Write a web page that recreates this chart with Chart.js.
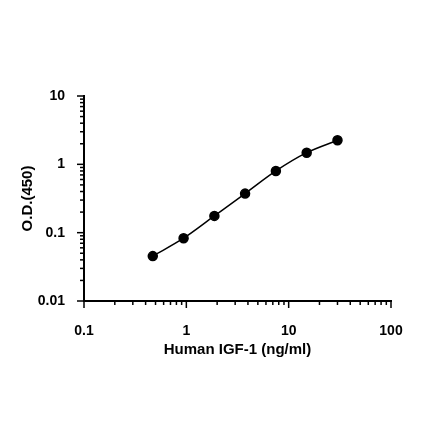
<!DOCTYPE html>
<html><head><script src="https://cdn.jsdelivr.net/npm/chart.js@4"></script>
<style>body{margin:0;background:#fff}</style></head>
<body><canvas id="c" width="440" height="441"></canvas>
<script>
const concentrations = [0.47, 0.94, 1.88, 3.75, 7.5, 15, 30];
const odValues = [0.0454, 0.083, 0.176, 0.373, 0.80, 1.48, 2.25];
const xTickLabels = [0.1, 1, 10, 100];
const yTickLabels = [0.01, 0.1, 1, 10];

function minorList(min, max){const a=[];for(let d=min;d<max;d*=10){for(let k=1;k<10;k++)a.push(+(d*k).toPrecision(3));}a.push(max);return a;}

const axisPlugin={id:'axes',afterDraw(ch){
 const c=ch.ctx,x=ch.scales.x,y=ch.scales.y,a=ch.chartArea;
 c.save();c.strokeStyle='#000';c.lineWidth=2;
 c.beginPath();c.moveTo(a.left,a.top-1);c.lineTo(a.left,a.bottom);c.lineTo(a.right+1,a.bottom);c.stroke();
 c.lineWidth=1.5;
 minorList(0.1,100).forEach(v=>{const p=x.getPixelForValue(v);const maj=xTickLabels.includes(v);c.beginPath();c.moveTo(p,a.bottom);c.lineTo(p,a.bottom+(maj?7:4));c.stroke();});
 minorList(0.01,10).forEach(v=>{const p=y.getPixelForValue(v);const maj=yTickLabels.includes(v);c.beginPath();c.moveTo(a.left,p);c.lineTo(a.left-(maj?7:4),p);c.stroke();});
 c.restore();}};

new Chart(document.getElementById('c'),{type:'line',
 data:{datasets:[{data:concentrations.map((v,i)=>({x:v,y:odValues[i]})),borderColor:'#000',backgroundColor:'#000',borderWidth:1.5,pointRadius:4.5,pointBackgroundColor:'#000',cubicInterpolationMode:'monotone'}]},
 options:{responsive:false,animation:false,
  layout:{padding:{top:96,right:49,left:0,bottom:0}},
  plugins:{legend:{display:false},tooltip:{enabled:false}},
  scales:{
   x:{type:'logarithmic',min:0.1,max:100,grid:{display:false},border:{display:false},
    afterBuildTicks:s=>{s.ticks=xTickLabels.map(v=>({value:v}));},
    afterFit:s=>{s.height=140;},
    ticks:{color:'#000',padding:14,maxRotation:0,font:{family:'Liberation Sans',size:14,weight:'bold'},callback:v=>String(v)},
    title:{display:true,text:'Human IGF-1 (ng/ml)',color:'#000',font:{family:'Liberation Sans',size:15,weight:'bold'},padding:{top:0,bottom:82}}},
   y:{type:'logarithmic',min:0.01,max:10,grid:{display:false},border:{display:false},
    afterBuildTicks:s=>{s.ticks=yTickLabels.map(v=>({value:v}));},
    afterFit:s=>{s.width=84;},
    ticks:{color:'#000',padding:11,font:{family:'Liberation Sans',size:14,weight:'bold'},callback:v=>String(v)},
    title:{display:true,text:'O.D.(450)',color:'#000',font:{family:'Liberation Sans',size:15,weight:'bold'},padding:{top:19,bottom:0}}}
  }},plugins:[axisPlugin]});
</script></body></html>
